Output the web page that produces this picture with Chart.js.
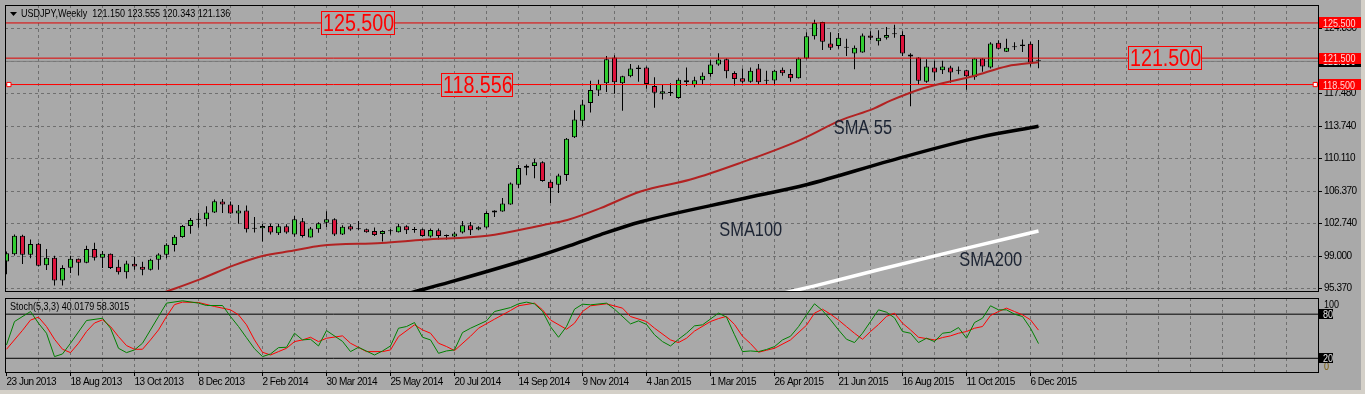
<!DOCTYPE html>
<html>
<head>
<meta charset="utf-8">
<title>USDJPY Weekly</title>
<script src="https://cdn.jsdelivr.net/npm/chart.js@4.4.0/dist/chart.umd.min.js"></script>
<style>
  html, body { margin: 0; padding: 0; background: #d4d0c8; }
  #win { position: absolute; left: 0; top: 0; width: 1361px; height: 390px; background: #a9a9a9; overflow: hidden; }
  #mainChart { position: absolute; left: 0; top: 0; display: block; }
  #stochChart { position: absolute; left: 0; top: 297px; display: block; }
</style>
</head>
<body>
<div id="win">
  <canvas id="mainChart" width="1361" height="297"></canvas>
  <canvas id="stochChart" width="1361" height="93"></canvas>
</div>
<script>
// weekly bars, index 0 = week of 23 Jun 2013
const opens = [98.39,99.21,101.31,99.15,100.41,97.95,98.81,96.23,97.69,98.70,98.25,99.82,98.81,99.26,97.80,97.16,98.14,97.80,97.46,98.59,
  99.15,100.27,101.16,102.43,103.13,103.18,103.97,105.20,104.87,103.85,104.19,102.10,102.17,102.43,101.61,102.40,101.46,102.96,101.12,102.06,
  102.80,103.18,101.46,102.40,102.04,102.06,101.84,101.50,101.82,101.72,102.40,101.98,102.06,101.24,101.95,101.28,101.24,101.68,102.51,102.02,
  102.24,104.19,104.08,104.87,107.10,109.04,109.24,109.68,107.44,107.10,108.22,112.52,114.39,116.41,117.82,118.65,121.57,118.65,119.44,120.26,
  120.44,118.32,117.45,117.53,116.97,118.99,118.46,118.99,119.69,120.78,121.38,119.81,119.21,118.83,120.33,118.93,118.95,120.18,119.69,119.21,
  121.45,123.99,125.60,123.17,122.87,122.70,122.02,122.13,124.07,123.43,123.81,124.21,124.14,121.90,121.56,118.83,120.44,120.11,120.44,120.06,
  120.11,119.33,121.45,120.45,123.25,122.24,122.75,122.87,123.13,121.150];
const highs = [99.52,101.45,101.42,100.89,100.53,99.82,99.03,97.95,99.03,98.73,100.19,100.53,99.59,99.30,98.59,98.47,98.92,98.36,98.70,99.33,
  100.45,101.39,102.54,103.33,103.92,104.67,105.42,105.49,105.20,104.82,104.75,103.44,102.65,102.69,102.69,102.62,103.55,103.33,102.32,102.84,
  104.11,103.29,102.51,102.62,102.99,102.13,102.24,101.95,102.09,102.69,102.51,102.32,102.13,102.13,102.13,101.45,101.76,102.99,102.88,102.40,
  104.11,104.22,105.60,107.36,109.35,109.41,110.05,109.79,107.62,108.37,112.41,115.58,116.78,118.94,119.05,121.75,121.83,119.50,120.82,120.70,
  120.56,119.33,118.46,118.65,119.21,120.44,119.39,119.88,121.26,122.05,121.45,120.00,120.33,120.44,120.82,120.07,120.18,120.44,120.26,121.57,
  124.44,125.86,125.64,124.44,124.37,123.69,122.95,124.29,124.55,124.66,125.04,125.30,124.55,122.05,121.60,121.38,121.19,121.19,120.63,120.56,
  120.18,121.49,121.49,123.32,123.54,123.69,123.32,123.62,123.36,123.555];
const lows = [96.94,99.07,98.09,98.77,97.83,97.42,95.67,95.67,97.08,96.79,98.20,98.51,97.65,97.53,96.90,96.46,97.46,96.83,97.35,97.46,
  98.77,99.52,101.09,101.53,102.21,102.40,103.89,103.89,103.81,102.69,101.68,101.68,100.67,101.46,101.39,101.53,101.20,101.12,101.12,101.65,
  102.32,101.28,101.39,101.87,101.95,101.65,101.28,100.67,101.46,101.68,101.50,101.65,101.20,101.12,100.89,100.89,101.12,101.57,101.39,101.95,
  102.13,103.44,104.03,104.85,106.72,108.18,107.85,107.44,105.04,106.16,107.55,112.41,113.79,115.32,117.19,117.64,117.45,115.51,119.33,118.83,
  118.01,115.85,116.81,117.19,116.89,118.32,118.20,118.57,119.39,120.63,119.21,118.38,118.65,118.69,118.57,118.57,118.46,119.50,118.83,119.18,
  121.38,123.62,122.42,122.42,122.57,121.75,120.25,122.10,123.53,122.94,123.62,123.81,121.75,116.03,118.46,118.69,118.94,119.69,118.69,119.66,
  117.90,119.05,119.95,120.33,122.50,122.20,122.42,122.20,120.56,120.343];
const closes = [99.33,101.31,99.15,100.38,97.91,98.81,96.23,97.65,98.70,98.25,99.82,98.81,99.26,97.65,97.16,98.17,97.83,97.46,98.59,99.18,
  100.30,101.20,102.43,103.10,103.12,103.97,105.24,104.87,103.85,104.19,102.06,102.13,102.43,101.68,102.40,101.68,103.18,101.28,102.13,102.73,
  103.18,101.46,102.35,102.02,102.06,101.72,101.39,101.84,101.85,102.40,101.95,101.99,101.28,101.98,101.28,101.30,101.57,102.51,101.95,102.28,
  103.89,103.97,104.98,107.25,109.01,109.27,109.68,107.55,106.72,108.15,112.33,114.54,116.22,117.87,118.57,121.38,118.76,119.44,120.33,120.44,
  118.57,117.57,117.75,117.55,119.05,118.76,118.99,119.50,120.78,121.34,120.00,119.13,118.83,120.07,118.76,118.95,120.07,119.77,119.21,121.45,
  123.99,125.49,123.36,122.69,123.81,122.69,122.69,124.07,123.81,123.81,124.14,124.22,122.02,121.68,118.94,120.56,119.88,120.56,119.88,120.07,
  119.44,121.45,120.56,123.17,122.58,122.69,122.76,123.06,121.00,121.136];

// moving averages: [bar index, price]
const sma55 = [[19.5,94.8],[24.25,96.38],[28.4,97.95],[31.75,98.96],[35.9,99.63],[39.25,100.19],[46.9,100.5],[52.1,100.86],[60.1,101.31],
  [67.1,102.54],[70.1,103.10],[74.25,104.45],[79.25,106.35],[85.5,107.70],[91.75,109.60],[98.9,112.07],[104.25,114.42],[108.4,115.77],
  [110.5,116.67],[114.6,118.08],[120.9,119.47],[125.1,120.59],[129,121.04]];
const sma100 = [[50.4,94.8],[55.4,96.04],[66.7,99.07],[70.4,100.19],[74.2,101.42],[79.2,102.88],[91.7,105.46],[100.1,107.14],[110.4,109.83],
  [121.7,112.52],[129,113.75]];
const sma200 = [[97.2,94.8],[100.9,95.59],[109.25,97.50],[119.25,99.74],[129,101.85]];

// stochastic (5,3,3): [bar index, value]
const stochMain = [[0,38.2],[1,70],[3,83.6],[4,67.7],[5,54.1],[6,22.3],[7,25.9],[8,40.5],[10,71.4],[12,74.5],[13,60.9],[14,33.6],[15,27.7],
  [16,31.4],[17,40.5],[19,76.8],[20,95],[22,98.2],[24,95],[25,91.8],[27,91.8],[28,76.8],[29,63.2],[30,48],[31,33],[32,22.3],[33,25.9],
  [34,34.5],[35,35],[36,54.1],[37,45],[38,45.9],[39,36.8],[40,57.7],[42,43],[43,29.1],[44,35],[46,24.5],[47,30],[48,36.8],[49,60.9],
  [50,63.2],[51,68.6],[52,48.6],[53,45],[54,26.8],[55,30],[56,31.4],[57,55],[58,60.9],[60,70.9],[61,83.6],[63,89],[64,94.1],[65,96.4],
  [66,94],[67,84],[68,63],[69,48.6],[70,63.2],[71,86.8],[72,93.6],[73,92.7],[75,95],[76,86.8],[78,66.8],[79,70.9],[80,66],[81,52],
  [82,42.7],[83,36.8],[84,45.9],[85,54.1],[86,64.1],[87,65.5],[89,81.4],[90,76],[91,52],[92,29.1],[93,30],[94,29.1],[95,32],[96,35.9],
  [97,45],[98,50],[99,63],[100,79.1],[101,94.1],[102,85],[103,72.3],[104,58.6],[105,45.9],[106,41.4],[107,54.1],[108,70],[109,85.9],
  [110,82.7],[111,75],[112,56.4],[113,54.1],[114,41.4],[115,47.3],[116,42.7],[117,54.1],[118,55.5],[119,61.8],[120,47.3],[121,68.6],
  [122,74.5],[123,91.4],[124,85.9],[125,85.9],[126,80],[127,76.8],[128,60.9],[129,40.02]];
const stochSignal = [[0,32.3],[2,58],[3,72],[4,75.9],[5,63.2],[6,45.9],[7,32.3],[8,27.7],[9,40.5],[10,56.4],[11,68],[12,72.3],[13,63.2],
  [14,49.5],[15,37.3],[16,32.3],[17,32.3],[18,45],[19,58.6],[20,76.8],[21,93],[22,96.4],[24,95.9],[26,90.5],[28,85.9],[29,79.1],[30,65.5],
  [31,45],[32,28.2],[33,24.5],[34,29.1],[35,33.6],[36,42.7],[37,45],[38,48.6],[39,42.7],[40,47.3],[42,50.5],[43,40.5],[45,29.1],[47,29.1],
  [48,31.4],[49,49.5],[51,65.5],[52,58.6],[53,54.1],[54,40.5],[55,36],[56,30.5],[58,50],[59,60.9],[61,73.2],[63,85],[64,91.4],[66,95],
  [67,85.9],[68,72],[70,59.5],[71,67.7],[72,83.6],[73,91.4],[75,94.1],[77,88.2],[78,76.8],[80,70],[81,61],[83,45],[84,41.4],[85,47.3],
  [86,57],[88,70],[89,74],[90,77],[91,66],[92,50],[93,40],[94,28.2],[95,31],[96,33.6],[98,45],[100,65],[101,81.4],[102,86.8],[103,80],
  [104,72],[105,63],[106,54],[107,45.9],[108,56.4],[109,66],[110,77],[111,81.4],[112,67.7],[113,58.6],[114,48.6],[116,45],[117,48.2],
  [118,50.5],[119,54.1],[120,56.4],[121,60.9],[122,63.2],[123,78.2],[124,83.6],[125,88.2],[126,83.6],[127,79.1],[128,72.3],[129,58.3]];

const priceTicks = [95.37, 99.0, 102.74, 106.37, 110.11, 113.74, 117.48, 121.11, 124.85];
const timeLabels = ['23 Jun 2013','18 Aug 2013','13 Oct 2013','8 Dec 2013','2 Feb 2014','30 Mar 2014','25 May 2014','20 Jul 2014',
  '14 Sep 2014','9 Nov 2014','4 Jan 2015','1 Mar 2015','26 Apr 2015','21 Jun 2015','16 Aug 2015','11 Oct 2015','6 Dec 2015'];
const levels = [125.5, 121.5, 118.5];
const bidPrice = 121.136;
const stochLevels = [80, 20];

// text objects on the chart (bar index + price)
const notes = [
  {text: '125.500', at: 39.3, price: 125.5},
  {text: '118.556', at: 54.3, price: 118.5},
  {text: '121.500', at: 140.2, price: 121.5}
];
const smaNotes = [
  {text: 'SMA 55', at: 103.4, price: 113.75},
  {text: 'SMA100', at: 89.1, price: 102.09},
  {text: 'SMA200', at: 119.1, price: 98.73}
];

const TXT = "'Liberation Sans', Arial, sans-serif";
const SQUEEZE = 0.82;   // the terminal font is narrow
const GRID = '#6f6f6f';
const xMin = -0.1875;
const xMax = xMin + 1314 / 8;
const gridIdx = [];
for (let v = 4; v <= 160; v += 4) gridIdx.push(v);

const bars = opens.map((o, i) => i);
const bodyColors = opens.map((o, i) => closes[i] >= o ? '#32cd32' : '#dc143c');
const pts = arr => arr.map(p => ({x: p[0], y: p[1]}));
const flat = v => [{x: xMin, y: v}, {x: xMax, y: v}];

function narrow(ctx, text, x, y, size, color) {
    ctx.save();
    if ('letterSpacing' in ctx) ctx.letterSpacing = '0px';
    ctx.font = size + 'px ' + TXT;
    ctx.textBaseline = 'middle';
    ctx.textAlign = 'left';
    ctx.fillStyle = color;
    ctx.translate(x, y);
    ctx.scale(SQUEEZE, 1);
    ctx.fillText(text, 0, 0);
    const w = ctx.measureText(text).width * SQUEEZE;
    ctx.restore();
    return w;
}

function tag(ctx, x, y, w, h, text, bg, fg) {
    ctx.fillStyle = bg;
    ctx.fillRect(x, Math.round(y - h / 2), w, h);
    narrow(ctx, text, x + 4, Math.round(y) + 0.5, 11, fg);
}

// tighter tick labels, closer to the terminal font
const tightText = {
    id: 'tightText',
    beforeDraw(chart) {
        if ('letterSpacing' in chart.ctx) chart.ctx.letterSpacing = '-0.5px';
    }
};

const mainDecor = {
    id: 'mainDecor',
    afterDraw(chart) {
        const {ctx, chartArea: a, scales: {x, y}} = chart;
        ctx.save();
        ctx.strokeStyle = '#000';
        ctx.lineWidth = 1;
        ctx.strokeRect(a.left + 0.5, a.top + 0.5, a.right - a.left - 1, a.bottom - a.top - 1);

        // header
        ctx.fillStyle = '#000';
        ctx.beginPath();
        ctx.moveTo(10, 12); ctx.lineTo(17, 12); ctx.lineTo(13.5, 16); ctx.closePath();
        ctx.fill();
        narrow(ctx, 'USDJPY,Weekly  121.150 123.555 120.343 121.136', 21, 14, 11, '#000');

        // boxed price texts
        notes.forEach(n => {
            const px = Math.round(x.getPixelForValue(n.at));
            const py = Math.round(y.getPixelForValue(n.price));
            ctx.save();
            ctx.font = '24px ' + TXT;
            const w = Math.ceil(ctx.measureText(n.text).width * SQUEEZE) + 4;
            ctx.restore();
            ctx.fillStyle = '#a9a9a9';
            ctx.fillRect(px, py - 11, w, 23);
            ctx.strokeStyle = '#ff0000';
            ctx.strokeRect(px + 0.5, py - 11.5, w, 23);
            narrow(ctx, n.text, px + 2, py + 1, 24, '#ff0000');
        });

        smaNotes.forEach(n => {
            narrow(ctx, n.text, x.getPixelForValue(n.at), y.getPixelForValue(n.price) + 2, 20, '#1c2433');
        });

        // price tags on the right scale
        const left = a.right;
        const w = chart.width - left;
        tag(ctx, left, y.getPixelForValue(bidPrice), w, 11, '121.136', '#000', '#fff');
        levels.forEach(v => {
            tag(ctx, left, y.getPixelForValue(v), w, 11, v.toFixed(3), '#ff0000', '#ffd6d6');
        });
        ctx.restore();
    }
};

const stochDecor = {
    id: 'stochDecor',
    afterDraw(chart) {
        const {ctx, chartArea: a, scales: {y}} = chart;
        ctx.save();
        ctx.strokeStyle = '#000';
        ctx.lineWidth = 1;
        ctx.strokeRect(a.left + 0.5, a.top + 0.5, a.right - a.left - 1, a.bottom - a.top - 1);
        narrow(ctx, 'Stoch(5,3,3) 40.0179 58.3015', 10, a.top + 9, 11, '#000');
        narrow(ctx, '100', a.right + 5, a.top + 7, 11, '#000');
        narrow(ctx, '0', a.right + 5, a.bottom - 6, 11, '#7a5a00');
        stochLevels.forEach(v => {
            tag(ctx, a.right, y.getPixelForValue(v), 14, 10, String(v), '#000', '#e8e8e8');
        });
        ctx.restore();
    }
};

const common = {
    responsive: false,
    animation: false,
    events: [],
    plugins: {legend: {display: false}, tooltip: {enabled: false}}
};

const smaLine = (arr, color, width) => ({
    type: 'line', data: pts(arr), borderColor: color, borderWidth: width, pointRadius: 0,
    cubicInterpolationMode: 'monotone', order: 0
});

new Chart(document.getElementById('mainChart').getContext('2d'), {
    type: 'bar',
    data: {
        datasets: [
            smaLine(sma55, '#b22222', 2),
            smaLine(sma100, '#000000', 3.5),
            smaLine(sma200, '#ffffff', 3.5),
            {type: 'line', data: flat(levels[0]), borderColor: '#e00000', borderWidth: 1, pointRadius: 0, order: 1},
            {type: 'line', data: flat(levels[1]), borderColor: '#e00000', borderWidth: 1, pointRadius: 0, order: 1},
            {type: 'line', data: flat(levels[2]), borderColor: '#ff0000', borderWidth: 1, pointRadius: 0, order: 1},
            {type: 'line', data: [{x: 0.3, y: levels[2]}, {x: 163.6, y: levels[2]}], showLine: false, pointStyle: 'rect',
                pointRadius: 3, pointBackgroundColor: '#fff', pointBorderColor: '#ff0000', pointBorderWidth: 1, order: 0},
            {type: 'line', data: flat(bidPrice), borderColor: '#7a7a7a', borderWidth: 1, pointRadius: 0, order: 4},
            {
                data: bars.map(i => ({x: i, y: [opens[i], closes[i]]})),
                backgroundColor: bodyColors, borderColor: '#000', borderWidth: 1, borderSkipped: false,
                maxBarThickness: 5, minBarLength: 1, grouped: false, order: 2
            },
            {
                data: bars.map(i => ({x: i, y: [lows[i], highs[i]]})),
                backgroundColor: '#000', borderWidth: 0, maxBarThickness: 1, grouped: false, order: 3
            }
        ]
    },
    options: Object.assign({}, common, {
        layout: {padding: {left: 5, top: 5, right: 0, bottom: 1}},
        scales: {
            x: {
                type: 'linear', min: xMin, max: xMax, offset: false,
                afterBuildTicks: s => { s.ticks = gridIdx.map(v => ({value: v})); },
                afterFit: s => { s.height = 0; s.paddingLeft = 0; s.paddingRight = 0; },
                ticks: {display: false},
                grid: {color: GRID, drawTicks: false, offset: false},
                border: {display: false, dash: [3, 3]}
            },
            y: {
                type: 'linear', position: 'right', min: 94.92, max: 127.54,
                afterBuildTicks: s => { s.ticks = priceTicks.map(v => ({value: v})); },
                afterFit: s => { s.width = 42; s.paddingTop = 0; s.paddingBottom = 0; },
                ticks: {callback: v => Number(v).toFixed(3), color: '#000', font: {family: TXT, size: 10}, padding: 2},
                grid: {color: GRID, tickColor: '#000', tickLength: 3},
                border: {display: false, dash: [3, 3]}
            }
        }
    }),
    plugins: [tightText, mainDecor]
});

const labelled = v => v % 8 === 0 && v / 8 < timeLabels.length;

new Chart(document.getElementById('stochChart').getContext('2d'), {
    type: 'line',
    data: {
        datasets: [
            {data: pts(stochMain), borderColor: '#008000', borderWidth: 1, pointRadius: 0},
            {data: pts(stochSignal), borderColor: '#ff0000', borderWidth: 1, pointRadius: 0},
            {data: flat(stochLevels[0]), borderColor: '#000', borderWidth: 1, pointRadius: 0},
            {data: flat(stochLevels[1]), borderColor: '#000', borderWidth: 1, pointRadius: 0}
        ]
    },
    options: Object.assign({}, common, {
        layout: {padding: {left: 5, top: 1, right: 0, bottom: 0}},
        scales: {
            x: {
                type: 'linear', min: xMin, max: xMax, offset: false,
                afterBuildTicks: s => { s.ticks = [0].concat(gridIdx).map(v => ({value: v})); },
                afterFit: s => { s.height = 17; s.paddingLeft = 0; s.paddingRight = 0; },
                ticks: {
                    autoSkip: false, maxRotation: 0, align: 'start', padding: 0,
                    color: '#000', font: {family: TXT, size: 10},
                    callback: v => labelled(v) ? timeLabels[v / 8] : ''
                },
                grid: {
                    color: c => (c.tick && c.tick.value === 0) ? 'rgba(0,0,0,0)' : GRID,
                    tickColor: c => (c.tick && labelled(c.tick.value)) ? '#000' : 'rgba(0,0,0,0)',
                    tickLength: 3, offset: false
                },
                border: {display: false, dash: [3, 3]}
            },
            y: {
                type: 'linear', position: 'right', min: 0, max: 102,
                afterFit: s => { s.width = 42; s.paddingTop = 0; s.paddingBottom = 0; },
                ticks: {display: false},
                grid: {display: false},
                border: {display: false}
            }
        }
    }),
    plugins: [tightText, stochDecor]
});
</script>
</body>
</html>
